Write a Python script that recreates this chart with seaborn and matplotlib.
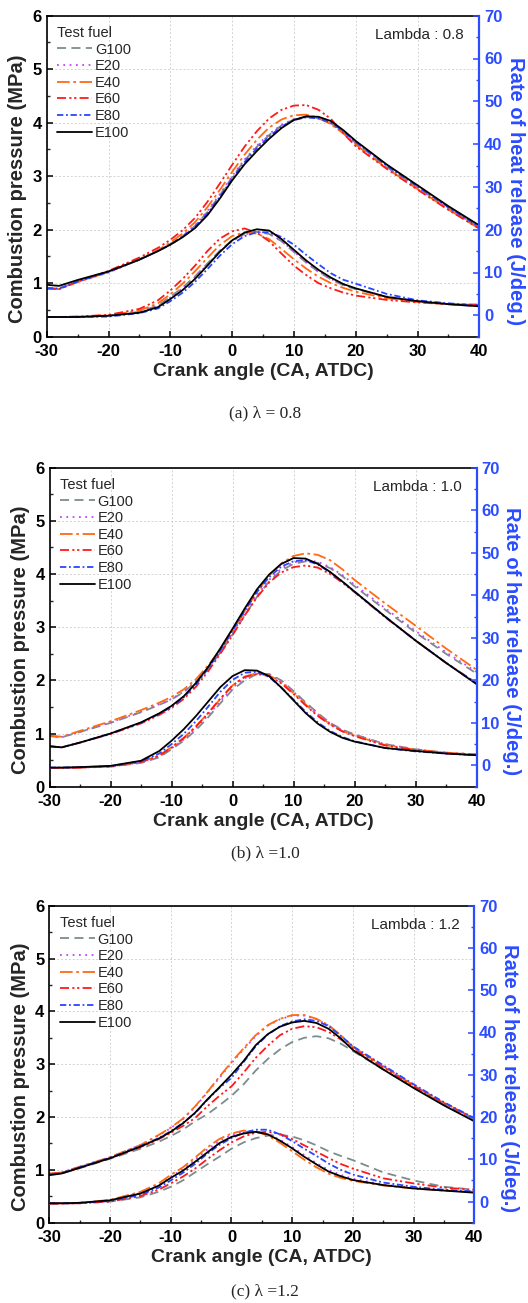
import matplotlib
matplotlib.use('Agg')

import pandas as pd
import matplotlib.pyplot as plt
from matplotlib.ticker import MultipleLocator
import seaborn as sns

sns.set_theme(style="ticks")
plt.rcParams['font.family'] = ['Liberation Sans', 'DejaVu Sans']
plt.rcParams['axes.unicode_minus'] = False

fuels = ['G100', 'E20', 'E40', 'E60', 'E80', 'E100']
crank = [-30, -28, -25, -20, -15, -12, -10, -8, -6, -4, -2, 0, 2, 4, 6, 8, 10, 12, 14, 16, 18, 20, 25, 30, 35, 40]

# lambda 0.8 - combustion pressure (MPa)
p08_G100 = [0.91, 0.90, 1.03, 1.21, 1.44, 1.60, 1.73, 1.88, 2.07, 2.33, 2.64, 2.98, 3.29, 3.55, 3.77, 3.95, 4.06, 4.11, 4.08, 3.99, 3.82, 3.62, 3.18, 2.79, 2.41, 2.04]
p08_E20 = [0.90, 0.89, 1.02, 1.20, 1.44, 1.60, 1.73, 1.89, 2.08, 2.35, 2.66, 3.00, 3.31, 3.57, 3.79, 3.96, 4.07, 4.11, 4.08, 3.98, 3.81, 3.61, 3.17, 2.78, 2.40, 2.03]
p08_E40 = [0.90, 0.89, 1.02, 1.21, 1.45, 1.62, 1.76, 1.93, 2.14, 2.42, 2.74, 3.08, 3.40, 3.68, 3.91, 4.06, 4.14, 4.15, 4.09, 3.97, 3.80, 3.59, 3.15, 2.76, 2.38, 2.02]
p08_E60 = [0.90, 0.89, 1.03, 1.23, 1.48, 1.66, 1.81, 1.99, 2.22, 2.52, 2.86, 3.21, 3.55, 3.84, 4.08, 4.24, 4.32, 4.33, 4.24, 4.07, 3.80, 3.56, 3.14, 2.75, 2.37, 2.02]
p08_E80 = [0.91, 0.90, 1.03, 1.21, 1.44, 1.60, 1.72, 1.87, 2.05, 2.30, 2.61, 2.95, 3.26, 3.52, 3.74, 3.93, 4.05, 4.10, 4.08, 4.00, 3.84, 3.64, 3.20, 2.81, 2.42, 2.05]
p08_E100 = [0.97, 0.95, 1.06, 1.22, 1.44, 1.60, 1.72, 1.86, 2.03, 2.27, 2.58, 2.92, 3.22, 3.47, 3.70, 3.90, 4.05, 4.12, 4.11, 4.03, 3.86, 3.66, 3.22, 2.83, 2.44, 2.08]
# lambda 0.8 - rate of heat release (J/deg.)
h08_G100 = [-0.4, -0.4, -0.4, -0.1, 0.8, 2.3, 4.3, 6.5, 9.1, 12.1, 15.1, 17.5, 19.0, 19.5, 19.0, 17.3, 14.8, 12.3, 10.1, 8.4, 7.0, 6.1, 4.3, 3.3, 2.6, 2.1]
h08_E20 = [-0.4, -0.4, -0.4, -0.1, 0.7, 2.1, 4.1, 6.3, 8.9, 11.9, 14.9, 17.3, 18.9, 19.5, 19.1, 17.4, 14.9, 12.4, 10.2, 8.5, 7.1, 6.2, 4.4, 3.3, 2.6, 2.1]
h08_E40 = [-0.4, -0.4, -0.3, 0.0, 1.1, 2.8, 4.9, 7.4, 10.3, 13.4, 16.4, 18.5, 19.4, 19.1, 17.8, 15.5, 13.1, 10.9, 9.0, 7.5, 6.4, 5.5, 4.0, 3.1, 2.6, 2.3]
h08_E60 = [-0.4, -0.4, -0.3, 0.1, 1.5, 3.5, 5.8, 8.5, 11.6, 15.0, 17.9, 19.6, 20.3, 19.3, 17.3, 14.4, 11.6, 9.4, 7.5, 6.3, 5.3, 4.6, 3.6, 3.0, 2.6, 2.5]
h08_E80 = [-0.4, -0.4, -0.4, -0.3, 0.5, 1.6, 3.3, 5.3, 7.8, 10.8, 13.9, 16.6, 18.5, 19.4, 19.4, 18.3, 16.5, 14.1, 11.9, 9.8, 8.3, 7.4, 5.0, 3.5, 2.8, 2.3]
h08_E100 = [-0.4, -0.4, -0.4, -0.1, 0.6, 1.9, 3.8, 5.9, 8.5, 11.6, 14.8, 17.5, 19.3, 20.1, 19.8, 17.8, 15.3, 12.8, 10.6, 8.8, 7.3, 6.3, 4.3, 3.3, 2.6, 2.1]

# lambda 1.0
p10_G100 = [0.95, 0.93, 1.03, 1.20, 1.40, 1.54, 1.64, 1.78, 1.97, 2.22, 2.52, 2.86, 3.22, 3.57, 3.86, 4.07, 4.19, 4.24, 4.21, 4.11, 3.96, 3.77, 3.33, 2.90, 2.50, 2.13]
p10_E20 = [0.95, 0.93, 1.03, 1.21, 1.41, 1.55, 1.65, 1.79, 1.98, 2.24, 2.55, 2.89, 3.26, 3.60, 3.89, 4.10, 4.22, 4.26, 4.23, 4.13, 3.98, 3.80, 3.36, 2.93, 2.53, 2.16]
p10_E40 = [0.96, 0.94, 1.05, 1.23, 1.44, 1.58, 1.69, 1.83, 2.02, 2.28, 2.58, 2.92, 3.30, 3.66, 3.97, 4.20, 4.34, 4.39, 4.36, 4.26, 4.09, 3.89, 3.45, 3.03, 2.60, 2.20]
p10_E60 = [0.76, 0.74, 0.83, 0.99, 1.19, 1.35, 1.48, 1.65, 1.88, 2.17, 2.50, 2.85, 3.22, 3.56, 3.84, 4.03, 4.13, 4.16, 4.12, 4.00, 3.84, 3.66, 3.19, 2.75, 2.33, 1.95]
p10_E80 = [0.76, 0.74, 0.83, 1.00, 1.20, 1.37, 1.50, 1.68, 1.92, 2.22, 2.56, 2.93, 3.31, 3.66, 3.94, 4.14, 4.24, 4.26, 4.18, 4.03, 3.86, 3.67, 3.20, 2.75, 2.33, 1.94]
p10_E100 = [0.76, 0.74, 0.83, 1.00, 1.21, 1.38, 1.52, 1.70, 1.95, 2.25, 2.60, 2.97, 3.35, 3.71, 3.99, 4.19, 4.30, 4.29, 4.19, 4.04, 3.86, 3.67, 3.20, 2.75, 2.33, 1.93]
h10_G100 = [-0.6, -0.6, -0.5, -0.3, 0.6, 1.9, 3.8, 5.8, 8.3, 11.3, 14.6, 17.8, 20.0, 21.5, 21.5, 20.0, 17.5, 14.8, 12.3, 10.0, 8.4, 7.3, 5.0, 3.8, 3.0, 2.5]
h10_E20 = [-0.6, -0.6, -0.5, -0.3, 0.7, 2.1, 4.0, 6.1, 8.7, 11.8, 15.1, 18.3, 20.5, 21.6, 21.3, 19.8, 17.3, 14.6, 12.1, 9.9, 8.3, 7.2, 5.0, 3.8, 3.0, 2.6]
h10_E40 = [-0.6, -0.6, -0.5, -0.2, 0.8, 2.3, 4.3, 6.5, 9.2, 12.3, 15.6, 18.8, 20.9, 21.7, 21.2, 19.5, 17.0, 14.3, 11.8, 9.7, 8.1, 7.0, 4.8, 3.7, 3.0, 2.6]
h10_E60 = [-0.6, -0.6, -0.5, -0.2, 0.8, 2.3, 4.2, 6.4, 9.1, 12.3, 15.7, 18.8, 20.8, 21.5, 21.0, 19.3, 16.8, 14.1, 11.6, 9.6, 8.0, 6.9, 4.7, 3.6, 2.8, 2.5]
h10_E80 = [-0.5, -0.5, -0.4, -0.2, 1.0, 2.8, 5.0, 7.4, 10.4, 13.8, 17.3, 20.1, 21.8, 22.0, 20.8, 18.3, 15.5, 12.6, 10.1, 8.1, 6.7, 5.7, 4.1, 3.3, 2.8, 2.4]
h10_E100 = [-0.5, -0.5, -0.4, -0.1, 1.1, 3.4, 5.8, 8.5, 11.6, 15.0, 18.4, 21.0, 22.4, 22.3, 21.0, 18.3, 15.3, 12.3, 9.8, 7.9, 6.5, 5.6, 4.1, 3.4, 2.8, 2.4]

# lambda 1.2
p12_G100 = [0.91, 0.93, 1.03, 1.21, 1.40, 1.53, 1.64, 1.76, 1.92, 2.05, 2.22, 2.40, 2.62, 2.88, 3.10, 3.28, 3.42, 3.50, 3.53, 3.49, 3.39, 3.25, 2.90, 2.56, 2.24, 1.95]
p12_E20 = [0.93, 0.95, 1.06, 1.24, 1.47, 1.65, 1.79, 1.96, 2.19, 2.46, 2.74, 3.02, 3.28, 3.53, 3.73, 3.85, 3.92, 3.92, 3.85, 3.73, 3.54, 3.32, 2.96, 2.60, 2.27, 1.97]
p12_E40 = [0.93, 0.95, 1.06, 1.24, 1.47, 1.66, 1.80, 1.97, 2.20, 2.47, 2.76, 3.04, 3.30, 3.55, 3.74, 3.86, 3.93, 3.93, 3.86, 3.74, 3.55, 3.33, 2.96, 2.60, 2.27, 1.97]
p12_E60 = [0.92, 0.94, 1.04, 1.22, 1.43, 1.58, 1.70, 1.83, 1.98, 2.20, 2.40, 2.58, 2.84, 3.12, 3.35, 3.55, 3.67, 3.72, 3.70, 3.61, 3.47, 3.30, 2.94, 2.58, 2.26, 1.97]
p12_E80 = [0.92, 0.94, 1.05, 1.23, 1.45, 1.60, 1.73, 1.89, 2.07, 2.32, 2.55, 2.74, 3.04, 3.34, 3.56, 3.72, 3.81, 3.85, 3.82, 3.72, 3.54, 3.34, 2.98, 2.62, 2.28, 1.98]
p12_E100 = [0.90, 0.93, 1.04, 1.22, 1.44, 1.59, 1.72, 1.88, 2.08, 2.33, 2.56, 2.80, 3.06, 3.36, 3.57, 3.71, 3.79, 3.82, 3.78, 3.67, 3.49, 3.27, 2.90, 2.55, 2.22, 1.92]
h12_G100 = [-0.5, -0.5, -0.4, 0.0, 1.0, 2.3, 3.5, 5.0, 6.9, 8.8, 10.6, 12.5, 14.0, 15.0, 15.6, 15.8, 15.4, 14.5, 13.3, 11.9, 10.8, 9.8, 6.9, 5.0, 3.5, 2.8]
h12_E20 = [-0.4, -0.4, -0.3, 0.3, 2.0, 3.9, 5.9, 7.6, 9.9, 12.3, 14.3, 15.8, 16.5, 16.6, 16.0, 14.6, 12.9, 11.0, 9.1, 7.5, 6.3, 5.4, 4.0, 3.3, 2.6, 2.3]
h12_E40 = [-0.4, -0.4, -0.3, 0.4, 2.3, 4.3, 6.3, 8.1, 10.4, 12.8, 14.8, 16.1, 16.8, 16.6, 15.6, 13.9, 11.9, 9.9, 8.1, 6.6, 5.6, 4.9, 3.8, 3.1, 2.6, 2.3]
h12_E60 = [-0.5, -0.5, -0.4, 0.0, 1.3, 2.8, 4.3, 5.9, 7.8, 10.0, 12.1, 14.0, 15.4, 16.3, 16.5, 16.0, 14.8, 13.3, 11.8, 10.3, 8.9, 7.8, 5.5, 4.3, 3.3, 2.8]
h12_E80 = [-0.4, -0.4, -0.3, 0.1, 1.6, 3.3, 5.0, 6.8, 8.9, 11.3, 13.4, 15.0, 16.3, 17.0, 17.0, 15.9, 14.3, 12.5, 10.8, 9.0, 7.5, 6.4, 4.5, 3.5, 2.8, 2.4]
h12_E100 = [-0.4, -0.4, -0.3, 0.3, 1.9, 3.75, 5.6, 7.3, 9.4, 11.6, 13.8, 15.3, 16.1, 16.5, 15.9, 14.4, 12.6, 10.6, 8.8, 7.1, 6.0, 5.1, 3.9, 3.1, 2.6, 2.1]

palette = {'G100': '#7d8c8c', 'E20': '#c247f5', 'E40': '#ff6a10', 'E60': '#ff1a1a',
           'E80': '#2a45ff', 'E100': '#000000'}
dashes = {'G100': (5, 3), 'E20': (1, 2.5), 'E40': (7, 2, 1.5, 2),
          'E60': (5, 1.8, 1.2, 1.5, 1.2, 1.8), 'E80': (3.5, 1.5, 1, 1.5), 'E100': ''}
blue = '#2b4cff'


def long_df(series):
    rows = []
    for fuel, vals in zip(fuels, series):
        for c, v in zip(crank, vals):
            rows.append((c, v, fuel))
    return pd.DataFrame(rows, columns=['ca', 'val', 'fuel'])


panels = [
    ([p08_G100, p08_E20, p08_E40, p08_E60, p08_E80, p08_E100],
     [h08_G100, h08_E20, h08_E40, h08_E60, h08_E80, h08_E100],
     'Lambda : 0.8', '(a) λ = 0.8', [46.7, 15.7, 479.3, 336.7], 413),
    ([p10_G100, p10_E20, p10_E40, p10_E60, p10_E80, p10_E100],
     [h10_G100, h10_E20, h10_E40, h10_E60, h10_E80, h10_E100],
     'Lambda : 1.0', '(b) λ =1.0', [49.5, 467.7, 476.5, 786.7], 853),
    ([p12_G100, p12_E20, p12_E40, p12_E60, p12_E80, p12_E100],
     [h12_G100, h12_E20, h12_E40, h12_E60, h12_E80, h12_E100],
     'Lambda : 1.2', '(c) λ =1.2', [49.3, 905.7, 474.3, 1222.7], 1291),
]

W, H = 528, 1303
fig = plt.figure(figsize=(W / 100, H / 100), dpi=100)

for pres, hrr, lam_text, caption, box, cap_y in panels:
    l, t, r, b = box
    ax = fig.add_axes([l / W, 1 - b / H, (r - l) / W, (b - t) / H])
    sns.lineplot(data=long_df(pres), x='ca', y='val', hue='fuel', style='fuel',
                 hue_order=fuels, style_order=fuels, palette=palette, dashes=dashes,
                 linewidth=1.3, ax=ax, legend=True)
    ax2 = ax.twinx()
    sns.lineplot(data=long_df(hrr), x='ca', y='val', hue='fuel', style='fuel',
                 hue_order=fuels, style_order=fuels, palette=palette, dashes=dashes,
                 linewidth=1.3, ax=ax2, legend=False)

    ax.set_xlim(-30, 40)
    ax.set_ylim(0, 6)
    ax2.set_ylim(-5, 70)
    ax.xaxis.set_major_locator(MultipleLocator(10))
    ax.xaxis.set_minor_locator(MultipleLocator(5))
    ax.yaxis.set_major_locator(MultipleLocator(1))
    ax.yaxis.set_minor_locator(MultipleLocator(0.5))
    ax2.set_yticks(range(0, 71, 10))
    ax2.yaxis.set_minor_locator(MultipleLocator(5))

    ax.grid(True, which='major', color='#d3d3d3', linestyle=(0, (2, 2)), linewidth=0.7)
    ax2.grid(False)

    ax.tick_params(axis='both', which='major', direction='in', length=4, width=1.1,
                   labelsize=12, colors='black', top=False, right=False)
    ax.tick_params(axis='x', which='major', pad=5)
    ax.tick_params(axis='both', which='minor', direction='in', length=2.5, width=1.0,
                   top=False, right=False)
    ax2.tick_params(axis='y', which='major', direction='in', length=4, width=1.1,
                    labelsize=12, colors=blue)
    ax2.tick_params(axis='y', which='minor', direction='in', length=2.5, width=1.0,
                    colors=blue)
    for lab in ax.get_xticklabels() + ax.get_yticklabels() + ax2.get_yticklabels():
        lab.set_fontweight('bold')

    for s in ['left', 'bottom', 'top']:
        ax.spines[s].set_color('black')
        ax.spines[s].set_linewidth(1.2)
    ax2.spines['right'].set_color(blue)
    ax2.spines['right'].set_linewidth(1.6)
    for s in ['left', 'bottom', 'top']:
        ax2.spines[s].set_visible(False)

    ax.set_xlabel('Crank angle (CA, ATDC)', fontsize=14, fontweight='bold', labelpad=3)
    ax.set_ylabel('Combustion pressure (MPa)', fontsize=14.5, fontweight='bold',
                  va='center')
    ax2.set_ylabel('Rate of heat release (J/deg.)', fontsize=14.5, fontweight='bold',
                   color=blue, rotation=-90, va='center')
    ax.yaxis.set_label_coords(-0.068, 0.46)
    ax2.yaxis.set_label_coords(1.083, 0.455)

    old = ax.get_legend()
    handles = old.legend_handles
    labels = [tx.get_text() for tx in old.get_texts()]
    old.remove()
    leg = ax.legend(handles, labels, title='Test fuel', loc='upper left',
                    frameon=False, fontsize=10.5, title_fontsize=10.5,
                    handlelength=2.4, handletextpad=0.2, labelspacing=0.18,
                    borderaxespad=0.3, bbox_to_anchor=(0.0, 1.0))
    leg._legend_box.align = 'left'
    for h in leg.legend_handles:
        h.set_linewidth(1.3)

    ax.text(0.965, 0.94, lam_text, transform=ax.transAxes, ha='right', va='center',
            fontsize=11)

    fig.text(0.502, 1 - cap_y / H, caption, ha='center', va='center', fontsize=12.5,
             family=['Liberation Serif', 'DejaVu Serif'])

fig.savefig('out.png', dpi=100)
